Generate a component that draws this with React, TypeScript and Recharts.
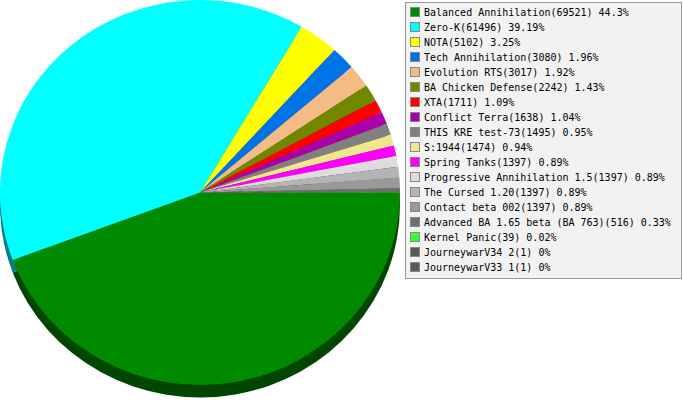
import { PieChart, Pie, Cell } from 'recharts'

const names = [
  'Balanced Annihilation',
  'Zero-K',
  'NOTA',
  'Tech Annihilation',
  'Evolution RTS',
  'BA Chicken Defense',
  'XTA',
  'Conflict Terra',
  'THIS KRE test-73',
  'S:1944',
  'Spring Tanks',
  'Progressive Annihilation 1.5',
  'The Cursed 1.20',
  'Contact beta 002',
  'Advanced BA 1.65 beta (BA 763)',
  'Kernel Panic',
  'JourneywarV34 2',
  'JourneywarV33 1',
]

const counts = [69521, 61496, 5102, 3080, 3017, 2242, 1711, 1638, 1495, 1474, 1397, 1397, 1397, 1397, 516, 39, 1, 1]

const colors = [
  '#008a00',
  '#00ffff',
  '#ffff00',
  '#0073e6',
  '#f5bb85',
  '#6f8800',
  '#ff0000',
  '#aa00aa',
  '#808080',
  '#f0e68c',
  '#ff00ff',
  '#dcdcdc',
  '#b4b4b4',
  '#999999',
  '#6e6e6e',
  '#33ff33',
  '#5a5a5a',
  '#5a5a5a',
]

const total = counts.reduce((a, b) => a + b, 0)
const data = names.map((name, i) => ({
  name,
  value: counts[i],
  pct: parseFloat(((counts[i] / total) * 100).toFixed(2)),
}))

// side of the "3d" pie: same slice, half as bright
function darken(hex: string) {
  const n = parseInt(hex.slice(1), 16)
  const r = Math.round(((n >> 16) & 255) * 0.5)
  const g = Math.round(((n >> 8) & 255) * 0.5)
  const b = Math.round((n & 255) * 0.5)
  return `rgb(${r},${g},${b})`
}

const ROW = 15

export default function App() {
  return (
    <div style={{ position: 'absolute', left: 0, top: 0, width: 683, height: 400, background: '#fff', overflow: 'hidden' }}>
      <div style={{ position: 'absolute', left: 0, top: 0, transform: 'scale(1, 0.9625)', transformOrigin: '0 0' }}>
        <PieChart width={402} height={420} margin={{ top: 0, right: 0, bottom: 0, left: 0 }}>
          <Pie
            data={data}
            dataKey="value"
            cx={200}
            cy={213}
            outerRadius={200}
            startAngle={0}
            endAngle={-360}
            stroke="none"
            isAnimationActive={false}
          >
            {data.map((d, i) => (
              <Cell key={'s' + i} fill={darken(colors[i])} />
            ))}
          </Pie>
          <Pie
            data={data}
            dataKey="value"
            cx={200}
            cy={200}
            outerRadius={200}
            startAngle={0}
            endAngle={-360}
            stroke="none"
            isAnimationActive={false}
          >
            {data.map((d, i) => (
              <Cell key={'c' + i} fill={colors[i]} />
            ))}
          </Pie>
        </PieChart>
      </div>
      <div
        style={{
          position: 'absolute',
          left: 405,
          top: 2,
          width: 277,
          height: 277,
          border: '1px solid #999',
          background: '#f2f2f2',
          fontFamily: '"DejaVu Sans Mono", monospace',
          fontSize: 10,
          color: '#000',
          paddingTop: 1.5,
          boxSizing: 'border-box',
        }}
      >
        {data.map((d, i) => (
          <div key={d.name} style={{ height: ROW, display: 'flex', alignItems: 'center', whiteSpace: 'nowrap' }}>
            <span
              style={{
                display: 'inline-block',
                width: 8,
                height: 8,
                marginLeft: 4,
                marginRight: 4,
                background: colors[i],
                border: '1px solid #888',
              }}
            />
            <span>{`${d.name}(${d.value}) ${d.pct}%`}</span>
          </div>
        ))}
      </div>
    </div>
  )
}
